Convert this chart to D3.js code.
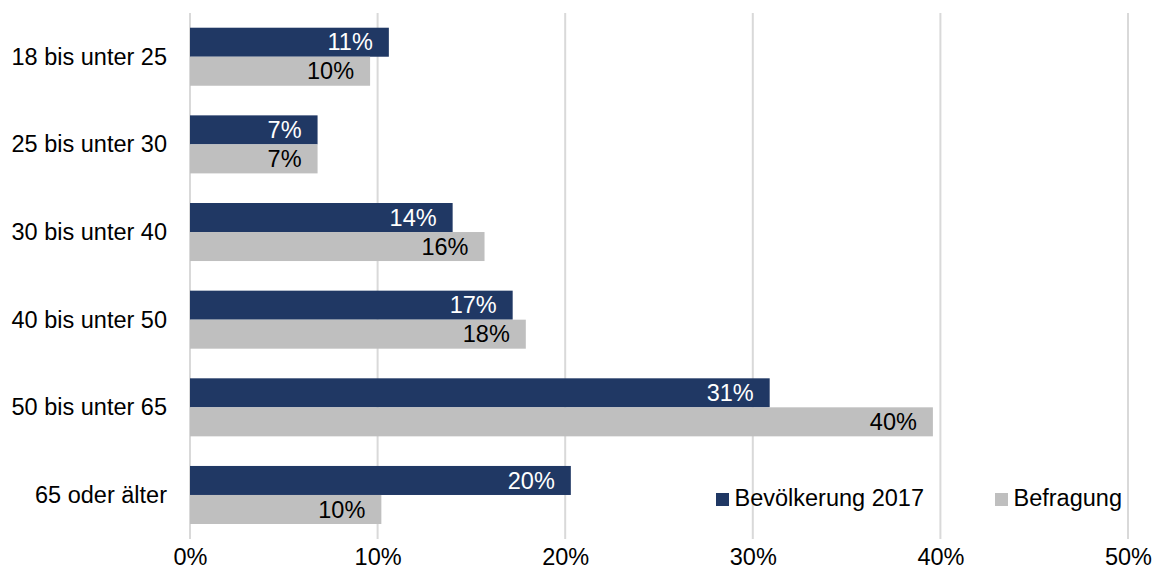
<!DOCTYPE html>
<html>
<head>
<meta charset="utf-8">
<script src="https://cdn.jsdelivr.net/npm/d3@7"></script>
<style>
  html, body { margin: 0; padding: 0; background: #fff; }
  svg { display: block; font-family: "Liberation Sans", Arial, sans-serif; }
</style>
</head>
<body>
<svg id="chart" width="1153" height="579"></svg>
<script>
// Altersgruppen und Anteile (in %)
const categories = ["18 bis unter 25", "25 bis unter 30", "30 bis unter 40", "40 bis unter 50", "50 bis unter 65", "65 oder älter"];
const seriesNames = ["Bevölkerung 2017", "Befragung"];
const bevoelkerung = [10.6, 6.8, 14.0, 17.2, 30.9, 20.3];
const befragung = [9.6, 6.8, 15.7, 17.9, 39.6, 10.2];
const xTicks = [0, 10, 20, 30, 40, 50];
const colors = ["#203864", "#bfbfbf"];
const labelColors = ["#ffffff", "#000000"];

const rows = categories.map((c, i) => ({ cat: c, vals: [bevoelkerung[i], befragung[i]] }));

const svg = d3.select("#chart");
const fontSize = 23.5;

const x = d3.scaleLinear().domain([0, 50]).range([190, 1128]);
const y = d3.scaleBand().domain(categories).range([12.9, 538.8]).paddingInner(0.338).paddingOuter(0.169);
const ySub = d3.scaleBand().domain(seriesNames).range([0, y.bandwidth()]);

// Gitternetzlinien
svg.append("g")
  .selectAll("line")
  .data(xTicks)
  .join("line")
  .attr("x1", d => x(d)).attr("x2", d => x(d))
  .attr("y1", 12.9).attr("y2", 539)
  .attr("stroke", "#d9d9d9")
  .attr("stroke-width", 2);

// X-Achse (nur Beschriftungen)
const xAxis = d3.axisBottom(x).tickValues(xTicks).tickFormat(d => d + "%").tickSize(0).tickPadding(0);
const gx = svg.append("g").attr("transform", "translate(0,547)").call(xAxis);
gx.select(".domain").remove();
gx.selectAll("text")
  .attr("font-size", fontSize)
  .attr("font-family", "Liberation Sans, Arial, sans-serif")
  .attr("fill", "#000")
  .attr("dy", "0.75em");

// Y-Achse (Kategorien)
const yAxis = d3.axisLeft(y).tickSize(0).tickPadding(0);
const gy = svg.append("g").attr("transform", "translate(167,0)").call(yAxis);
gy.select(".domain").remove();
gy.selectAll("text")
  .attr("font-size", fontSize)
  .attr("font-family", "Liberation Sans, Arial, sans-serif")
  .attr("fill", "#000")
  .attr("dy", "0.34em");

// Balkengruppen
const groups = svg.append("g")
  .selectAll("g")
  .data(rows)
  .join("g")
  .attr("transform", d => `translate(0,${y(d.cat)})`);

groups.selectAll("rect")
  .data(d => d.vals.map((v, j) => ({ name: seriesNames[j], v, j })))
  .join("rect")
  .attr("x", x(0))
  .attr("y", d => ySub(d.name))
  .attr("width", d => x(d.v) - x(0))
  .attr("height", ySub.bandwidth())
  .attr("fill", d => colors[d.j]);

groups.selectAll("text")
  .data(d => d.vals.map((v, j) => ({ name: seriesNames[j], v, j })))
  .join("text")
  .attr("x", d => x(d.v) - 16)
  .attr("y", d => ySub(d.name) + ySub.bandwidth() / 2)
  .attr("dy", "0.35em")
  .attr("text-anchor", "end")
  .attr("font-size", fontSize)
  .attr("fill", d => labelColors[d.j])
  .text(d => Math.round(d.v) + "%");

// Legende
const legendPos = [716, 995];
const legend = svg.append("g")
  .selectAll("g")
  .data(seriesNames)
  .join("g")
  .attr("transform", (d, i) => `translate(${legendPos[i]},0)`);
legend.append("rect")
  .attr("x", 0).attr("y", 493)
  .attr("width", 13).attr("height", 13)
  .attr("fill", (d, i) => colors[i]);
legend.append("text")
  .attr("x", 18.5).attr("y", 506)
  .attr("font-size", fontSize)
  .attr("fill", "#000")
  .text(d => d);
</script>
</body>
</html>
